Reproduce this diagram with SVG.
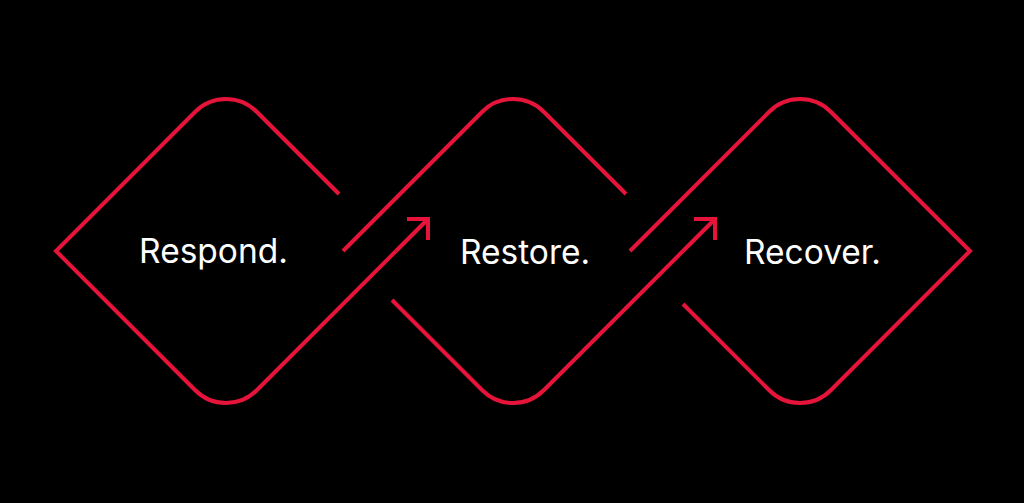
<svg xmlns="http://www.w3.org/2000/svg" width="1024" height="503" viewBox="0 0 1024 503">
  <style>
    .edge { fill: none; stroke: #e6143a; stroke-width: 4; stroke-linecap: butt; stroke-linejoin: miter; }
    .label { fill: #ffffff; font-family: Inter, "Liberation Sans", sans-serif; font-size: 33.5px; font-weight: 400; text-anchor: middle; }
  </style>
  <rect width="1024" height="503" fill="#000000"/>
  <g id="respond">
    <path class="edge" d="M339,194 L257,112 A43.5 43.5 0 0 0 195,112 L56,251 L195,390 A43.5 43.5 0 0 0 257,390 L396,251"/>
    <text class="label" x="213.5" y="263">Respond.</text>
  </g>
  <g id="restore">
    <path class="edge" d="M343,251 L482,112 A43.5 43.5 0 0 1 544,112 L626,194"/>
    <path class="edge" d="M392,300 L482,390 A43.5 43.5 0 0 0 544,390 L683,251"/>
    <text class="label" x="525" y="264">Restore.</text>
  </g>
  <g id="recover">
    <path class="edge" d="M630,251 L769,112 A43.5 43.5 0 0 1 831,112 L970,251 L831,390 A43.5 43.5 0 0 1 769,390 L683,304"/>
    <text class="label" x="812.5" y="264">Recover.</text>
  </g>
  <g id="connectors">
    <path class="edge" d="M396,251 L428,219"/>
    <path class="edge" d="M407,219 L428,219 L428,240"/>
    <path class="edge" d="M683,251 L715,219"/>
    <path class="edge" d="M694,219 L715,219 L715,240"/>
  </g>
</svg>
